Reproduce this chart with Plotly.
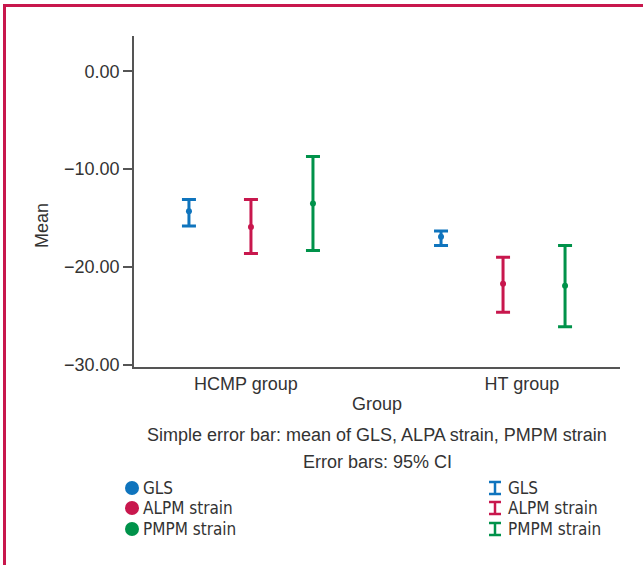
import plotly.graph_objects as go

groups = ["HCMP group", "HT group"]
series = ["GLS", "ALPM strain", "PMPM strain"]
colors = ["#0F74BD", "#C8174D", "#00924A"]

gls_mean = [-14.3, -16.9]
gls_lo = [-15.8, -17.8]
gls_hi = [-13.1, -16.3]

alpm_mean = [-15.9, -21.7]
alpm_lo = [-18.6, -24.6]
alpm_hi = [-13.1, -19.0]

pmpm_mean = [-13.5, -21.9]
pmpm_lo = [-18.3, -26.1]
pmpm_hi = [-8.7, -17.8]

y_ticks = [0, -10, -20, -30]

means = [gls_mean, alpm_mean, pmpm_mean]
los = [gls_lo, alpm_lo, pmpm_lo]
his = [gls_hi, alpm_hi, pmpm_hi]
offsets = [-0.246, 0.0, 0.246]

TXT = "#333333"
FONT = "Liberation Sans, Arial, sans-serif"
NARROW = "DejaVu Sans Condensed, Liberation Sans Narrow, sans-serif"
FS = 18

fig = go.Figure()
for i, name in enumerate(series):
    xs = [g + 1 + offsets[i] for g in range(len(groups))]
    fig.add_trace(go.Scatter(
        x=xs, y=means[i], mode="markers", name=name, showlegend=False,
        marker=dict(color=colors[i], size=6),
        error_y=dict(type="data", symmetric=False,
                     array=[h - m for h, m in zip(his[i], means[i])],
                     arrayminus=[m - l for m, l in zip(means[i], los[i])],
                     color=colors[i], thickness=3, width=7),
    ))

W, H = 643, 565
L, R, T, B = 134, 23, 36, 198
pw, ph = W - L - R, H - T - B

def px(x):
    return (x - L) / pw

def py(y):
    return (H - B - y) / ph

fig.update_layout(
    width=W, height=H,
    margin=dict(l=L, r=R, t=T, b=B),
    paper_bgcolor="white", plot_bgcolor="white",
    font=dict(family=FONT, size=FS, color=TXT),
    xaxis=dict(range=[0.536, 2.464], tickvals=[0.98, 2.075], ticktext=groups,
               showline=True, linecolor="#555555", linewidth=1.5,
               showgrid=False, zeroline=False, ticks="",
               title=dict(text="Group", standoff=4, font=dict(size=FS))),
    yaxis=dict(range=[-30.2, 3.6], tickvals=y_ticks, tickformat=".2f",
               showline=True, linecolor="#555555", linewidth=1.5,
               showgrid=False, zeroline=False, ticks="outside", ticklen=9,
               tickcolor="#555555", tickwidth=1.5),
)

def text_ann(text, x, y, **kw):
    d = dict(text=text, x=px(x), y=py(y), showarrow=False, xref="paper", yref="paper",
             xanchor="center", yanchor="middle", font=dict(size=FS, color=TXT))
    d.update(kw)
    return d

ann = []
ann.append(text_ann("Mean", 42, 226, textangle=-90))
ann.append(text_ann("Simple error bar: mean of GLS, ALPA strain, PMPM strain", 377, 435))
ann.append(text_ann("Error bars: 95% CI", 377, 462))

rows = [488, 508, 529]
shapes = []
for i, name in enumerate(series):
    yc = rows[i]
    r = 7
    shapes.append(dict(type="circle", xref="paper", yref="paper",
                       x0=px(132 - r), x1=px(132 + r), y0=py(yc + r), y1=py(yc - r),
                       fillcolor=colors[i], line=dict(width=0)))
    ann.append(text_ann(name, 141, yc, xanchor="left",
                        font=dict(family=NARROW, size=17, color=TXT)))
    cx, hw, hh = 495, 6, 6
    for (x0, y0, x1, y1) in [(cx - hw, yc - hh, cx + hw, yc - hh),
                             (cx - hw, yc + hh, cx + hw, yc + hh),
                             (cx, yc - hh, cx, yc + hh)]:
        shapes.append(dict(type="line", xref="paper", yref="paper",
                           x0=px(x0), x1=px(x1), y0=py(y0), y1=py(y1),
                           line=dict(color=colors[i], width=2.5)))
    ann.append(text_ann(name, 506, yc, xanchor="left",
                        font=dict(family=NARROW, size=17, color=TXT)))

BC = "#C8174D"
shapes.append(dict(type="line", xref="paper", yref="paper", x0=px(4.5), x1=px(643),
                   y0=py(5.5), y1=py(5.5), line=dict(color=BC, width=3)))
shapes.append(dict(type="line", xref="paper", yref="paper", x0=px(4.5), x1=px(4.5),
                   y0=py(4), y1=py(565), line=dict(color=BC, width=3)))

fig.update_layout(annotations=ann, shapes=shapes)
fig.write_html("out.html", config={"displayModeBar": False},
               post_script="document.body.style.margin='0';")
